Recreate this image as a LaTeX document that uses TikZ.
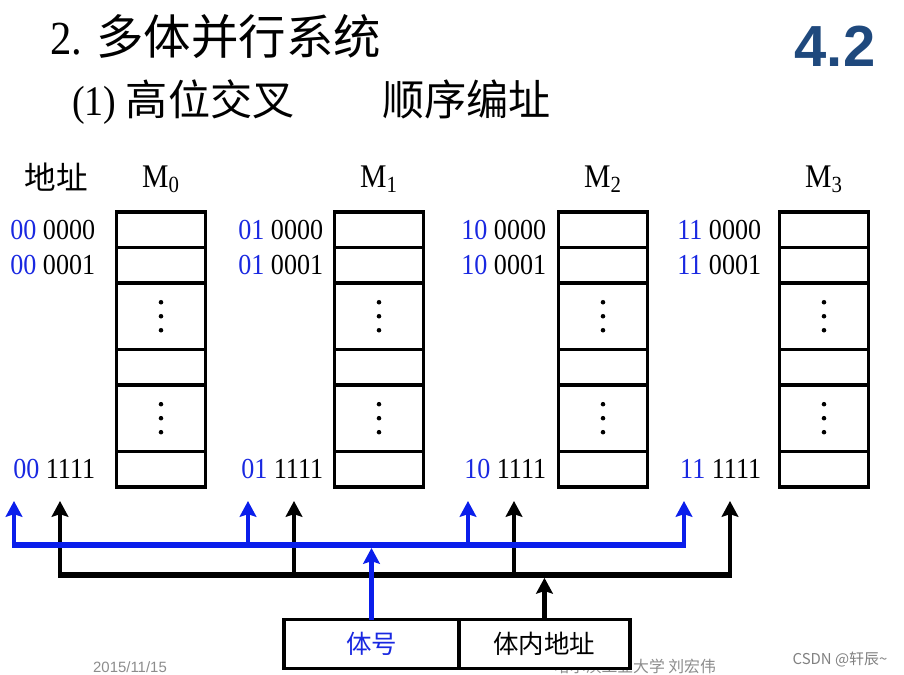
\documentclass[tikz,border=0pt]{standalone}
\usepackage{fontspec}
\setmainfont{Liberation Serif}[FakeStretch=0.9]
\newfontfamily\cjk{Noto Sans CJK SC}
\newfontfamily\hsans{Liberation Sans}
\usepackage{xcolor}
\usetikzlibrary{arrows.meta,positioning,calc}

\definecolor{bitblue}{RGB}{25,40,225}
\definecolor{busblue}{RGB}{10,30,235}
\definecolor{numblue}{RGB}{31,73,125}
\definecolor{footgray}{RGB}{140,140,140}

\newcommand{\bk}[2]{{\color{bitblue}#1} #2}

\begin{document}
\begin{tikzpicture}[
    x=0.02cm, y=-0.02cm,
    cell/.style={rectangle, draw, line width=2pt, minimum width=1.78cm, minimum height=0.71cm, outer sep=0pt, inner sep=0pt},
    bigcell/.style={cell, minimum height=1.33cm},
    addr/.style={inner sep=0pt, font=\fontsize{16.5pt}{18pt}\selectfont},
    mem/.style={font=\fontsize{18.8pt}{20pt}\selectfont},
    field/.style={rectangle, draw, line width=1.8pt, fill=white, minimum height=0.98cm, outer sep=0pt, font=\cjk\fontsize{14.5pt}{16pt}\selectfont},
    bbus/.style={draw=busblue, line width=3.4pt, shorten <=-1.25pt, shorten >=-1.25pt},
    kbus/.style={draw=black, line width=3.2pt, shorten <=-1.25pt, shorten >=-1.25pt},
    barrow/.style={-{Stealth[length=9pt,width=9.5pt,inset=1.5pt]}, draw=busblue, line width=2.5pt},
    karrow/.style={-{Stealth[length=9pt,width=9.5pt,inset=1.5pt]}, draw=black, line width=2.5pt},
    foot/.style={text=footgray}
]
    \useasboundingbox (0,0) rectangle (904,675);

    % headings
    \node [anchor=west, font=\fontsize{27pt}{30pt}\selectfont] (title) at (44,37) {2. {\cjk 多体并行系统}};
    \node [anchor=west, font=\fontsize{24pt}{26pt}\selectfont] (sub) at (66,102) {(1) {\cjk 高位交叉}\hspace{50pt}{\cjk 顺序编址}};
    \node [font=\hsans\bfseries\fontsize{33pt}{36pt}\selectfont, text=numblue] (sec) at (835,46) {4.2};
    \node [font=\cjk\fontsize{18pt}{20pt}\selectfont] (addrhead) at (56,177) {地址};

    % memory banks
    \foreach \i/\cx/\gap/\bits in {0/161/0.42cm/00, 1/379/0.22cm/01, 2/603/0.24cm/10, 3/824/0.36cm/11} {
        \node [cell, anchor=north] (m\i r1) at (\cx,212) {};
        \node [cell, below=0pt of m\i r1] (m\i r2) {};
        \node [bigcell, below=0pt of m\i r2] (m\i r3) {};
        \node [cell, below=0pt of m\i r3] (m\i r4) {};
        \node [bigcell, below=0pt of m\i r4] (m\i r5) {};
        \node [cell, below=0pt of m\i r5] (m\i r6) {};
        \node [mem, above=0.26cm of m\i r1] (mlab\i) {M\textsubscript{\i}};
        \node [addr, left=\gap of m\i r1] (a\i r1) {\bk{\bits}{0000}};
        \node [addr, left=\gap of m\i r2] (a\i r2) {\bk{\bits}{0001}};
        \node [addr, left=\gap of m\i r6] (a\i r6) {\bk{\bits}{1111}};
        \foreach \r in {3,5}
            \foreach \d in {-14,0,14}
                \fill ($(m\i r\r.center)+(0,\d)$) circle (1.3pt);
    }

    % bus ends
    \foreach \i/\bx/\kx in {0/14/60, 1/248/294, 2/468/514, 3/684/730} {
        \coordinate (bt\i) at (\bx,501);
        \coordinate (kt\i) at (\kx,501);
    }
    \coordinate (bline) at (0,545);
    \coordinate (kline) at (0,575);

    % footer (under the address register)
    \node [foot, font=\hsans\fontsize{8.5pt}{10pt}\selectfont] (date) at (130,667) {2015/11/15};
    \node [foot, font=\cjk\fontsize{9pt}{10pt}\selectfont] (school) at (635,666) {哈尔滨工业大学\ 刘宏伟};
    \node [text=gray, font=\cjk\fontsize{8.5pt}{10pt}\selectfont] (csdn) at (840,660) {CSDN @轩辰\textasciitilde};

    % address register
    \node [field, text=bitblue, minimum width=3.5cm] (bank) at (371.5,644) {体号};
    \node [field, minimum width=3.42cm, right=0pt of bank] (offset) {体内地址};

    \draw [kbus] (kt0 |- kline) -- (kt3 |- kline);
    \foreach \i in {0,...,3}
        \draw [karrow] (kt\i |- kline) -- (kt\i);
    \draw [karrow, shorten >=1.6pt] (offset) -- (offset |- kline);

    \draw [bbus] (bt0 |- bline) -- (bt3 |- bline);
    \foreach \i in {0,...,3}
        \draw [barrow] (bt\i |- bline) -- (bt\i);
    \draw [barrow, shorten >=1.7pt] (bank) -- (bank |- bline);
\end{tikzpicture}
\end{document}
